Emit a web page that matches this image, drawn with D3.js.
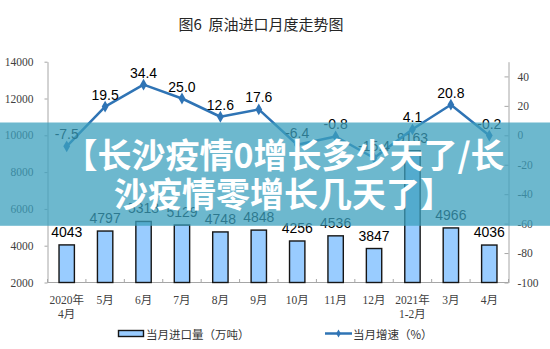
<!DOCTYPE html>
<html>
<head>
<meta charset="utf-8">
<script src="https://cdn.jsdelivr.net/npm/d3@7"></script>
<style>
  body { margin: 0; background: #fff; }
  svg { display: block; }
</style>
</head>
<body>
<svg id="chart" width="550" height="349"></svg>
<script>
// Monthly crude oil imports (10k tonnes) and year-on-year growth (%)
const categories = ["2020年\n4月", "5月", "6月", "7月", "8月", "9月", "10月", "11月", "12月", "2021年\n1-2月", "3月", "4月"];
const imports = [4043, 4797, 5318, 5129, 4748, 4848, 4256, 4536, 3847, 9163, 4966, 4036];
const growth = [-7.5, 19.5, 34.4, 25.0, 12.6, 17.6, -6.4, -0.8, -15.4, 4.1, 20.8, -0.2];
const leftTicks = [2000, 4000, 6000, 8000, 10000, 12000, 14000];
const rightTicks = [-100, -80, -60, -40, -20, 0, 20, 40];

const title = "图6  原油进口月度走势图";
const legendBar = "当月进口量（万吨）";
const legendLine = "当月增速（%）";
const bannerLines = ["【长沙疫情0增长多少天了/长", "沙疫情零增长几天了】"];

const svg = d3.select("#chart");
const plotLeft = 47.5, plotRight = 508.5, plotTop = 61.7, plotBottom = 282.5;

const x = d3.scaleBand().domain(categories).range([plotLeft, plotRight])
  .paddingInner(0.6).paddingOuter(0.3);
const yL = d3.scaleLinear().domain([2000, 14000]).range([plotBottom, plotTop]);
const yR = d3.scaleLinear().domain([-100, 50]).range([plotBottom, plotTop]);
const cx = c => x(c) + x.bandwidth() / 2;

const axisColor = "#a6a6a6";
const tickFont = "'Liberation Serif', 'Noto Sans CJK SC', serif";
const plain = d => String(d);

// Title
svg.append("text")
  .attr("x", 261).attr("y", 23)
  .attr("text-anchor", "middle").attr("dominant-baseline", "central")
  .style("font-family", "'Noto Sans CJK SC', sans-serif")
  .style("font-size", "15px").style("fill", "#262626")
  .style("white-space", "pre")
  .text(title);

// Left axis
const gL = svg.append("g").attr("transform", `translate(${plotLeft},0)`)
  .call(d3.axisLeft(yL).tickValues(leftTicks).tickFormat(plain)
    .tickSizeInner(3).tickSizeOuter(0).tickPadding(11));
// Right axis (ticks point inward)
const gR = svg.append("g").attr("transform", `translate(${plotRight},0)`)
  .call(d3.axisRight(yR).tickValues(rightTicks).tickFormat(plain)
    .tickSizeInner(-4).tickSizeOuter(0).tickPadding(9));
[gL, gR].forEach(g => {
  g.select(".domain").attr("stroke", axisColor).attr("stroke-width", 1);
  g.selectAll(".tick line").attr("stroke", axisColor);
  g.selectAll(".tick text").style("font-family", tickFont).style("font-size", "11.5px").style("fill", "#404040");
});

// Category axis
svg.append("line").attr("x1", plotLeft).attr("x2", plotRight).attr("y1", plotBottom).attr("y2", plotBottom)
  .attr("stroke", axisColor);
const bounds = categories.map(c => cx(c) - x.step() / 2).concat([cx(categories[categories.length - 1]) + x.step() / 2]);
svg.append("g").selectAll("line").data(bounds).join("line")
  .attr("x1", d => d).attr("x2", d => d).attr("y1", plotBottom).attr("y2", plotBottom - 3.5)
  .attr("stroke", axisColor);
const catText = svg.append("g").selectAll("text").data(categories).join("text")
  .attr("text-anchor", "middle")
  .style("font-family", tickFont).style("font-size", "11.5px").style("fill", "#404040");
catText.each(function (c) {
  const t = d3.select(this);
  c.split("\n").forEach((line, i) => {
    t.append("tspan").attr("x", cx(c)).attr("y", 303.5 + i * 14).text(line);
  });
});

// Bars
svg.append("g").selectAll("rect").data(categories).join("rect")
  .attr("x", c => x(c)).attr("width", x.bandwidth())
  .attr("y", (c, i) => yL(imports[i]))
  .attr("height", (c, i) => plotBottom - yL(imports[i]))
  .attr("fill", "#99ccff").attr("stroke", "#151515").attr("stroke-width", 1.4);

const labelFont = "'Liberation Sans', Arial, sans-serif";
svg.append("g").selectAll("text").data(categories).join("text")
  .attr("x", c => cx(c)).attr("y", (c, i) => yL(imports[i]) - 8)
  .attr("text-anchor", "middle")
  .style("font-family", labelFont).style("font-size", "14px").style("fill", "#000")
  .text((c, i) => imports[i]);

// Growth line
const lineColor = "#2f74b5";
const line = d3.line().x(d => cx(d.c)).y(d => yR(d.v));
const pts = categories.map((c, i) => ({ c, v: growth[i] }));
svg.append("path").datum(pts).attr("d", line)
  .attr("fill", "none").attr("stroke", lineColor).attr("stroke-width", 2.5)
  .attr("stroke-linejoin", "round");
svg.append("g").selectAll("path").data(pts).join("path")
  .attr("transform", d => `translate(${cx(d.c)},${yR(d.v)})`)
  .attr("d", d3.symbol(d3.symbolDiamond, 40))
  .attr("fill", lineColor);
svg.append("g").selectAll("text").data(pts).join("text")
  .attr("x", d => cx(d.c)).attr("y", d => yR(d.v) - 7)
  .attr("text-anchor", "middle")
  .style("font-family", labelFont).style("font-size", "14px").style("fill", "#000")
  .text(d => d.v.toFixed(1));

// Legend
svg.append("rect").attr("x", 118.5).attr("y", 330.5).attr("width", 25).attr("height", 6)
  .attr("fill", "#99ccff").attr("stroke", "#151515").attr("stroke-width", 1.4);
svg.append("text").attr("x", 146).attr("y", 333.5).attr("dominant-baseline", "central")
  .style("font-family", "'Noto Sans CJK SC', sans-serif").style("font-size", "11.5px").style("fill", "#333")
  .text(legendBar);
svg.append("line").attr("x1", 325).attr("x2", 352).attr("y1", 333.5).attr("y2", 333.5)
  .attr("stroke", lineColor).attr("stroke-width", 2.5);
svg.append("path").attr("transform", "translate(338.5,333.5)")
  .attr("d", d3.symbol(d3.symbolDiamond, 18)).attr("fill", lineColor);
svg.append("text").attr("x", 353).attr("y", 333.5).attr("dominant-baseline", "central")
  .style("font-family", "'Noto Sans CJK SC', sans-serif").style("font-size", "11.5px").style("fill", "#333")
  .text(legendLine);

// Banner across the middle
svg.append("rect").attr("x", 0).attr("y", 122.5).attr("width", 550).attr("height", 103.3)
  .attr("fill", "rgb(60,160,190)").attr("opacity", 0.75);
svg.append("g").selectAll("text").data(bannerLines).join("text")
  .attr("x", 284).attr("y", (d, i) => 153.5 + i * 39)
  .attr("text-anchor", "middle").attr("dominant-baseline", "central")
  .style("font-family", "'Noto Sans CJK SC', sans-serif").style("font-weight", 700)
  .style("font-size", "34px").style("fill", "#fff")
  .text(d => d);
</script>
</body>
</html>
